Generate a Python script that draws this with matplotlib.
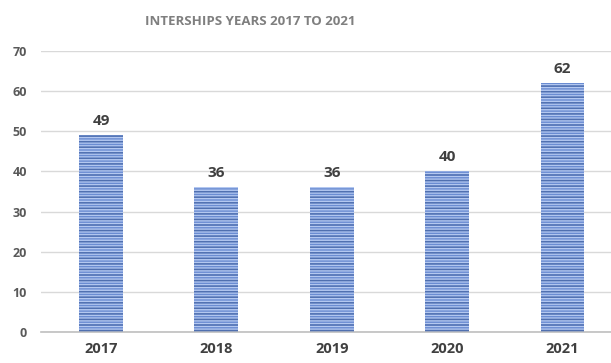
import matplotlib.pyplot as plt

# data
years = ["2017", "2018", "2019", "2020", "2021"]
interns = [49, 36, 36, 40, 62]
y_ticks = [0, 10, 20, 30, 40, 50, 60, 70]

plt.rcParams['font.family'] = ['Open Sans', 'DejaVu Sans']
plt.rcParams['hatch.linewidth'] = 1.0

fig = plt.figure(figsize=(6.11, 3.63), dpi=100)
ax = fig.add_axes([0.067, 0.085, 0.933, 0.775])

x = range(len(years))
plt.rcParams['hatch.color'] = '#b4c8f0'
ax.bar(x, interns, width=0.38, color='#6a8cd2', edgecolor='#b4c8f0',
       hatch='------', linewidth=0, zorder=2)
plt.rcParams['hatch.color'] = '#5070b0'
ax.bar(x, interns, width=0.38, color='none', edgecolor='#5070b0',
       hatch='---', linewidth=0, zorder=3)

for xi, v in zip(x, interns):
    ax.text(xi, v + 1.8, str(v), ha='center', va='bottom', fontsize=11,
            fontweight='bold', color='#404040')

ax.set_xlim(-0.52, 4.42)
ax.set_ylim(0, 70)
ax.set_yticks(y_ticks)
ax.set_xticks(list(x))
ax.set_xticklabels(years)
ax.yaxis.grid(True, color='#d9d9d9', linewidth=1, zorder=0)
ax.set_axisbelow(True)
for s in ['top', 'right', 'left']:
    ax.spines[s].set_visible(False)
ax.spines['bottom'].set_color('#bfbfbf')
ax.spines['bottom'].set_linewidth(1.2)
ax.tick_params(length=0)
ax.tick_params(axis='y', labelsize=9, labelcolor='#595959', pad=10)
ax.tick_params(axis='x', labelsize=10.5, labelcolor='#404040', pad=7)
for lbl in ax.get_yticklabels() + ax.get_xticklabels():
    lbl.set_fontweight('bold')

fig.text(0.41, 0.94, "INTERSHIPS YEARS 2017 TO 2021", ha='center', va='center',
         fontsize=9.5, fontweight='bold', color='#7f7f7f')

fig.savefig("out.png", dpi=100)
